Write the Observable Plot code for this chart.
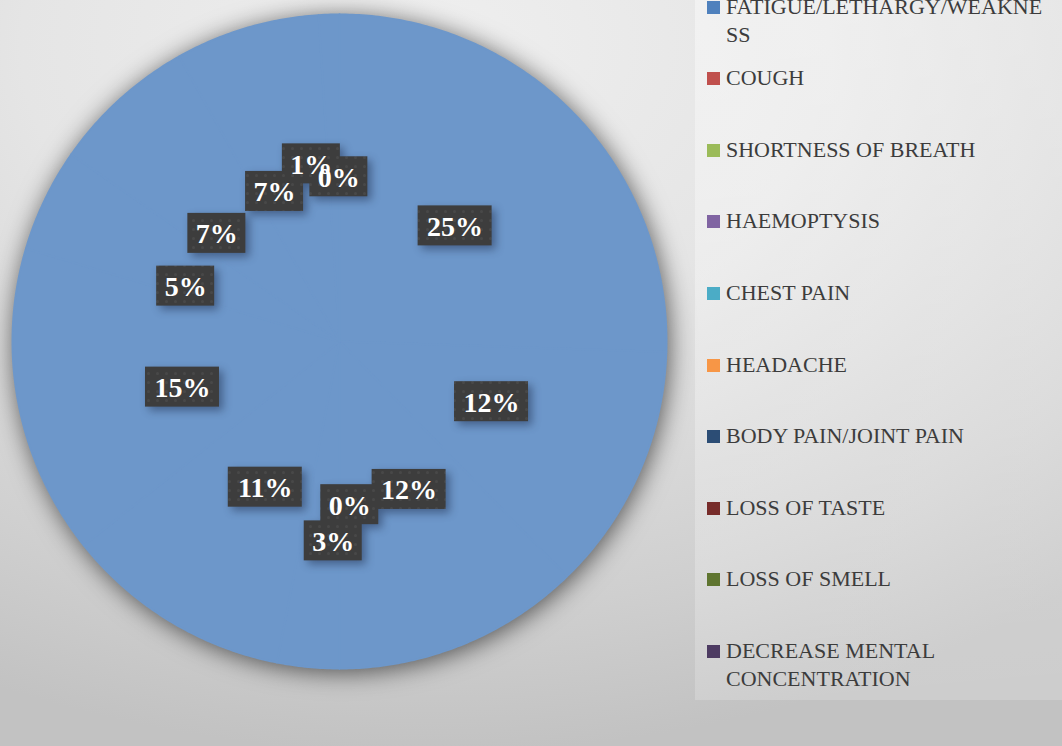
<!DOCTYPE html>
<html><head><meta charset="utf-8">
<script src="https://cdn.jsdelivr.net/npm/d3@7"></script>
<script src="https://cdn.jsdelivr.net/npm/@observablehq/plot@0.6"></script>
<style>
html,body{margin:0;padding:0;}
body{width:1062px;height:746px;overflow:hidden;position:relative;font-family:"Liberation Serif",serif;
background:radial-gradient(ellipse 95% 95% at 40% 6%, #efefef 0%, #e5e5e5 40%, #cfcfcf 80%, #c2c2c2 100%);}
#chart{position:absolute;left:0;top:0;}
#legend{position:absolute;left:695px;top:0;width:367px;height:700px;background:linear-gradient(175deg, rgba(255,255,255,0.40), rgba(255,255,255,0.18));}
.item{position:absolute;left:12px;width:355px;font-size:22px;line-height:28px;color:#3c3c3c;}
.sw{position:absolute;left:0;top:8px;width:13px;height:13px;}
.lab{position:absolute;left:19px;top:0;width:326px;overflow-wrap:anywhere;}
</style></head><body>
<div id="chart"></div><div id="legend"></div>
<script>
const categories = ["FATIGUE/LETHARGY/WEAKNESS","COUGH","SHORTNESS OF BREATH","HAEMOPTYSIS","CHEST PAIN","HEADACHE","BODY PAIN/JOINT PAIN","LOSS OF TASTE","LOSS OF SMELL","DECREASE MENTAL CONCENTRATION","OTHER SYMPTOM 1","OTHER SYMPTOM 2"];
const percents = [25,12,12,0,3,11,15,5,7,7,1,0];
const legendColors = ["#4F81BD","#C0504D","#9BBB59","#8064A2","#4BACC6","#F79646","#2C4D75","#772C2A","#5F7530","#4D3B62","#276A7C","#B65708"];
const legendShown = 10;
const pieColor = "#6d97ca";

const k = 327; // pixels per data unit (pie radius)
const arcs = d3.pie().sort(null).value(d => d)(percents);

// slice polygons
const slicePts = arcs.flatMap((a, i) => {
  const n = Math.max(2, Math.ceil((a.endAngle - a.startAngle) / 0.01));
  const pts = [{cat: categories[i], x: 0, y: 0}];
  for (let j = 0; j <= n; j++) {
    const t = a.startAngle + (a.endAngle - a.startAngle) * j / n;
    pts.push({cat: categories[i], x: Math.sin(t), y: -Math.cos(t)});
  }
  return pts;
});

// label layout: angles from the rounded percentages (share of 100),
// pushed outward (or sideways) when they collide with earlier labels
const cum = d3.cumsum(percents);
const placed = [];
function overlapFrac(p, q) {
  const ox = Math.max(0, Math.min(p.x + p.w/2, q.x + q.w/2) - Math.max(p.x - p.w/2, q.x - q.w/2));
  const oy = Math.max(0, Math.min(p.y + p.h/2, q.y + q.h/2) - Math.max(p.y - p.h/2, q.y - q.h/2));
  return (ox * oy) / (p.w * p.h);
}
const worst = p => d3.max(placed, q => overlapFrac(p, q)) ?? 0;
percents.forEach((v, i) => {
  const mid = 2 * Math.PI * (cum[i] - v / 2) / 100;
  const text = v + "%";
  const w = (26 + 16 * text.length) / k, h = 40 / k;
  const at = (r, t) => ({x: r * Math.sin(mid) + t * Math.cos(mid), y: -r * Math.cos(mid) + t * Math.sin(mid), w, h, text});
  let chosen = null;
  for (let r = 0.5; r <= 0.62 + 1e-9; r += 0.01) {
    const p = at(r, 0);
    if (worst(p) <= 0.12) { chosen = p; break; }
  }
  if (!chosen) {
    const cands = [];
    for (let r = 0.5; r <= 0.62 + 1e-9; r += 0.01) cands.push(at(r, 0));
    for (let t = -20; t <= 20; t += 5) cands.push(at(0.5, t / k));
    chosen = d3.least(cands, p => worst(p));
  }
  placed.push(chosen);
});
const labels = placed.map(p => ({...p, x1: p.x - p.w/2, x2: p.x + p.w/2, y1: p.y - p.h/2, y2: p.y + p.h/2}));

const chart = Plot.plot({
  width: 695, height: 746, margin: 0,
  style: {background: "transparent", overflow: "visible"},
  x: {domain: [-1, 1], range: [12, 666], axis: null},
  y: {domain: [-1, 1], range: [14, 668], axis: null},
  marks: [
    Plot.line(slicePts, {x: "x", y: "y", z: "cat", fill: pieColor, stroke: pieColor, strokeWidth: 2, strokeLinejoin: "round", curve: "linear-closed"}),
    Plot.rect(labels, {x1: "x1", x2: "x2", y1: "y1", y2: "y2", fill: "url(#dots)"}),
    Plot.text(labels, {x: "x", y: "y", text: "text", fill: "white", fontWeight: "bold", fontSize: 28, fontFamily: "Liberation Serif", dy: 1})
  ]
});
document.getElementById("chart").appendChild(chart);

const svg = d3.select(chart);
const defs = svg.insert("defs", ":first-child");
const pat = defs.append("pattern").attr("id", "dots").attr("patternUnits", "userSpaceOnUse").attr("width", 9).attr("height", 9);
pat.append("rect").attr("width", 9).attr("height", 9).attr("fill", "#3d3d3d");
pat.append("circle").attr("cx", 4.5).attr("cy", 4.5).attr("r", 1.5).attr("fill", "#484848");
svg.select('g[aria-label="line"]').style("filter", "drop-shadow(2px 3px 12px rgba(0,0,0,0.6))");
svg.select('g[aria-label="rect"]').style("filter", "drop-shadow(4px 4px 4px rgba(20,30,60,0.45))");

// legend
const legend = d3.select("#legend");
categories.slice(0, legendShown).forEach((c, i) => {
  const item = legend.append("div").attr("class", "item").style("top", (6.5 + 71.6 * i - 14) + "px");
  item.append("div").attr("class", "sw").style("background", legendColors[i]);
  item.append("div").attr("class", "lab").text(c.replace(/\//g, "/\u2060"));
});
</script>
</body></html>
